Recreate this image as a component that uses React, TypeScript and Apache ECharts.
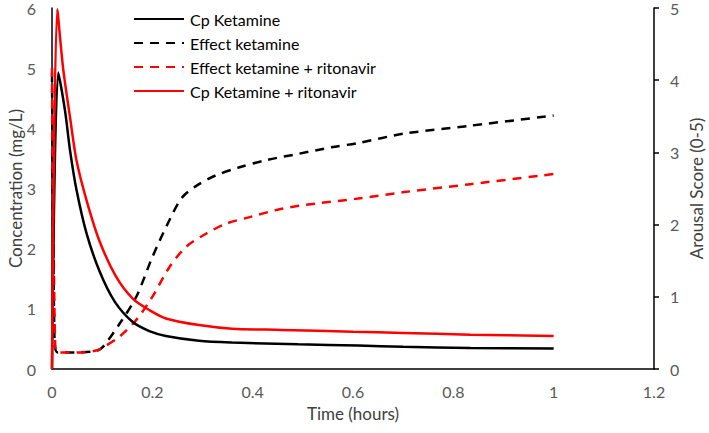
import React, { useEffect, useRef } from "react";
import * as echarts from "echarts";

const legendNames = [
  "Cp Ketamine",
  "Effect ketamine",
  "Effect ketamine + ritonavir",
  "Cp Ketamine + ritonavir",
];

const xTicks = [0, 0.2, 0.4, 0.6, 0.8, 1, 1.2];

const cpKetTime = [0, 0.0125, 0.026, 0.036, 0.049, 0.069, 0.095, 0.125, 0.161, 0.194, 0.227, 0.293, 0.359, 0.491, 0.61, 0.7, 0.834, 1.0];
const cpKet = [0, 4.93, 4.29, 3.63, 2.97, 2.25, 1.62, 1.12, 0.78, 0.63, 0.55, 0.47, 0.44, 0.41, 0.39, 0.37, 0.35, 0.34];

const cpRitTime = [0, 0.0105, 0.022, 0.036, 0.049, 0.069, 0.095, 0.128, 0.161, 0.194, 0.227, 0.293, 0.359, 0.458, 0.6, 0.7, 0.834, 1.0];
const cpRit = [0, 5.98, 5.01, 4.18, 3.46, 2.8, 2.12, 1.53, 1.17, 0.98, 0.84, 0.73, 0.67, 0.65, 0.62, 0.6, 0.57, 0.55];

const effKetTime = [0, 0.005, 0.011, 0.05, 0.088, 0.102, 0.135, 0.168, 0.2, 0.234, 0.26, 0.293, 0.326, 0.372, 0.425, 0.491, 0.557, 0.61, 0.702, 0.834, 1.0];
const effKet = [4.1, 0.4, 0.23, 0.23, 0.25, 0.31, 0.63, 1.0, 1.55, 2.06, 2.38, 2.56, 2.68, 2.79, 2.89, 2.98, 3.07, 3.13, 3.26, 3.37, 3.51];

const effRitTime = [0, 0.006, 0.012, 0.06, 0.09, 0.102, 0.135, 0.168, 0.2, 0.234, 0.267, 0.306, 0.346, 0.392, 0.458, 0.524, 0.61, 0.702, 0.834, 1.0];
const effRit = [4.17, 0.4, 0.23, 0.23, 0.26, 0.3, 0.45, 0.68, 1.0, 1.41, 1.69, 1.87, 2.01, 2.1, 2.22, 2.29, 2.36, 2.45, 2.56, 2.7];

const zip = (xs: number[], ys: number[]) => xs.map((x, i) => [x, ys[i]]);

const FONT = "Lato";

export default function App() {
  const ref = useRef<HTMLDivElement>(null);
  useEffect(() => {
    if (!ref.current) return;
    const chart = echarts.init(ref.current, undefined, { renderer: "svg" });
    const lineCommon = {
      type: "line" as const,
      showSymbol: false,
      symbol: "none",
      smooth: 0.3,
    };
    chart.setOption({
      animation: false,
      backgroundColor: "#ffffff",
      textStyle: { fontFamily: FONT },
      grid: { left: 52, right: 55, top: 8, bottom: 64, containLabel: false, outerBoundsMode: "none" },
      legend: {
        data: legendNames,
        orient: "vertical",
        left: 133,
        top: 11,
        padding: 0,
        itemWidth: 50,
        itemHeight: 14,
        itemGap: 8,
        itemStyle: { opacity: 0 },
        textStyle: { fontSize: 16, color: "#000000", fontFamily: FONT, padding: [0, 0, 0, 1] },
      },
      xAxis: {
        type: "value",
        min: 0,
        max: 1.2,
        interval: 0.2,
        name: "Time (hours)",
        nameLocation: "middle",
        nameGap: 36,
        nameMoveOverlap: false,
        nameTextStyle: { fontSize: 17, color: "#404040", fontFamily: FONT },
        axisLine: { lineStyle: { color: "#000000", width: 1.5 } },
        axisTick: { show: false },
        splitLine: { show: false },
        axisLabel: {
          fontSize: 16,
          color: "#595959",
          margin: 14,
          fontFamily: FONT,
          formatter: (v: number) => {
            const t = xTicks.find((k) => Math.abs(k - v) < 1e-6);
            return t === undefined ? "" : String(t);
          },
        },
      },
      yAxis: [
        {
          type: "value",
          min: 0,
          max: 6,
          interval: 1,
          name: "Concentration (mg/L)",
          nameLocation: "middle",
          nameGap: 28,
          nameMoveOverlap: false,
          nameTextStyle: { fontSize: 17, color: "#404040", fontFamily: FONT },
          axisLine: { show: true, lineStyle: { color: "#000000", width: 1.5 } },
          axisTick: { show: false },
          splitLine: { show: false },
          axisLabel: { fontSize: 16, color: "#595959", margin: 16, fontFamily: FONT },
        },
        {
          type: "value",
          min: 0,
          max: 5,
          interval: 1,
          position: "right",
          name: "Arousal Score (0-5)",
          nameLocation: "middle",
          nameGap: 34,
          nameRotate: 90,
          nameMoveOverlap: false,
          nameTextStyle: { fontSize: 17, color: "#404040", fontFamily: FONT },
          axisLine: { show: true, lineStyle: { color: "#000000", width: 1.5 } },
          axisTick: { show: true, inside: false, length: 5, lineStyle: { color: "#000000", width: 1.5 } },
          splitLine: { show: false },
          axisLabel: { fontSize: 16, color: "#595959", margin: 16, fontFamily: FONT },
        },
      ],
      series: [
        {
          ...lineCommon,
          name: legendNames[0],
          yAxisIndex: 0,
          data: zip(cpKetTime, cpKet),
          lineStyle: { color: "#000000", width: 2.5, type: "solid" },
          itemStyle: { color: "#000000" },
          z: 3,
        },
        {
          ...lineCommon,
          name: legendNames[1],
          yAxisIndex: 1,
          data: zip(effKetTime, effKet),
          lineStyle: { color: "#000000", width: 2.5, type: [9, 7] },
          itemStyle: { color: "#000000" },
          z: 2,
        },
        {
          ...lineCommon,
          name: legendNames[2],
          yAxisIndex: 1,
          data: zip(effRitTime, effRit),
          lineStyle: { color: "#ff0000", width: 2.5, type: [9, 7] },
          itemStyle: { color: "#ff0000" },
          z: 2,
        },
        {
          ...lineCommon,
          name: legendNames[3],
          yAxisIndex: 0,
          data: zip(cpRitTime, cpRit),
          lineStyle: { color: "#ff0000", width: 2.5, type: "solid" },
          itemStyle: { color: "#ff0000" },
          z: 3,
        },
      ],
    });
    return () => chart.dispose();
  }, []);
  return <div ref={ref} style={{ width: 709, height: 433, position: "absolute", left: 0, top: 0 }} />;
}
